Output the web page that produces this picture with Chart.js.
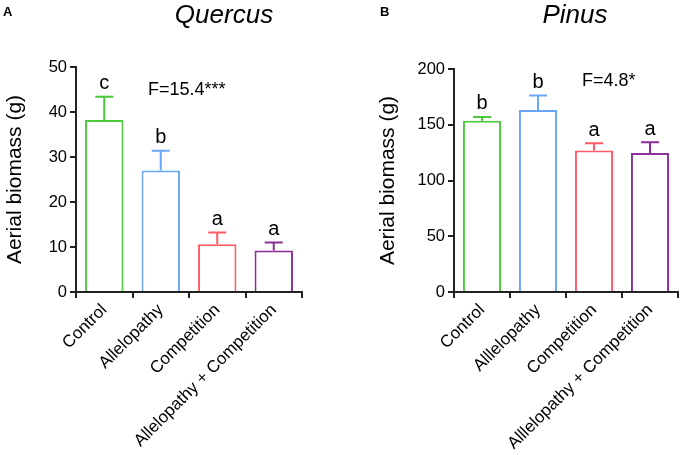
<!DOCTYPE html>
<html>
<head>
<meta charset="utf-8">
<script src="https://cdn.jsdelivr.net/npm/chart.js@4.4.1/dist/chart.umd.min.js"></script>
<style>
  html, body { margin: 0; padding: 0; background: #fff; }
  #wrap { position: relative; width: 680px; height: 455px; }
  .panel { position: absolute; top: 0; width: 340px; height: 455px; }
</style>
</head>
<body>
<div id="wrap">
  <div class="panel" style="left:0"><canvas id="graficoQuercus"></canvas></div>
  <div class="panel" style="left:340px"><canvas id="graficoPinus"></canvas></div>
</div>
<script>
// data
const categoriasQuercus = ["Control", "Allelopathy", "Competition", "Allelopathy + Competition"];
const categoriasPinus = ["Control", "Alllelopathy", "Competition", "Alllelopathy + Competition"];

const mediaQuercus = [38.2, 27.0, 10.6, 9.2];
const erroQuercus = [5.2, 4.4, 2.6, 1.8];
const letrasQuercus = ["c", "b", "a", "a"];

const mediaPinus = [153.6, 163.2, 127.0, 124.7];
const erroPinus = [3.4, 13.1, 6.3, 9.5];
const letrasPinus = ["b", "b", "a", "a"];

const ticksQuercus = [0, 10, 20, 30, 40, 50];
const ticksPinus = [0, 50, 100, 150, 200];

const cores = ["#4cc93c", "#6aa6f6", "#ff5a66", "#8c2d99"];
const FONTE = "'Liberation Sans', Arial, sans-serif";

// error bars + letters + titles
const extrasPlugin = {
    id: "extras",
    afterDatasetsDraw(chart, args, opts) {
        const ctx = chart.ctx;
        const meta = chart.getDatasetMeta(0);
        const y = chart.scales.y;
        ctx.save();
        meta.data.forEach((bar, i) => {
            const topo = opts.media[i] + opts.erro[i];
            const yTopo = y.getPixelForValue(topo);
            const yBar = y.getPixelForValue(opts.media[i]);
            ctx.strokeStyle = cores[i];
            ctx.lineWidth = 2;
            ctx.beginPath();
            ctx.moveTo(bar.x, yBar);
            ctx.lineTo(bar.x, yTopo);
            ctx.moveTo(bar.x - 9, yTopo);
            ctx.lineTo(bar.x + 9, yTopo);
            ctx.stroke();

            ctx.fillStyle = "#000";
            ctx.font = "20px " + FONTE;
            ctx.textAlign = "center";
            ctx.textBaseline = "bottom";
            ctx.fillText(opts.letras[i], bar.x, yTopo - 3);
        });

        ctx.fillStyle = "#000";
        ctx.textBaseline = "middle";
        ctx.font = "bold 13px " + FONTE;
        ctx.textAlign = "left";
        ctx.fillText(opts.painel, opts.painelX, 12);

        ctx.font = "italic 26px " + FONTE;
        ctx.textAlign = "center";
        ctx.fillText(opts.titulo, opts.tituloX, 16);

        ctx.font = "18px " + FONTE;
        ctx.textAlign = "left";
        ctx.fillText(opts.estat, opts.estatX, opts.estatY);
        ctx.restore();
    }
};

function criarGrafico(id, categorias, media, erro, letras, ticks, max, extras, topo) {
    const ctx = document.getElementById(id);
    return new Chart(ctx, {
        type: "bar",
        data: {
            labels: categorias,
            datasets: [{
                data: media,
                backgroundColor: "#ffffff",
                borderColor: cores,
                borderWidth: 2,
                borderSkipped: "bottom",
                categoryPercentage: 1,
                barPercentage: 0.68
            }]
        },
        options: {
            responsive: false,
            animation: false,
            layout: { padding: { left: extras.esquerda, right: 340 - extras.direita, top: topo, bottom: 0 } },
            plugins: {
                legend: { display: false },
                tooltip: { enabled: false },
                extras: Object.assign({ media: media, erro: erro, letras: letras }, extras)
            },
            scales: {
                x: {
                    grid: { drawOnChartArea: false, color: "#222", lineWidth: 2, tickLength: 6, offset: true },
                    border: { color: "#222", width: 2 },
                    ticks: {
                        color: "#000",
                        font: { size: 17, family: FONTE },
                        minRotation: 45,
                        maxRotation: 45,
                        padding: 2
                    },
                    afterFit(scale) { scale.height = 455 - 292; }
                },
                y: {
                    min: 0,
                    max: max,
                    afterBuildTicks(scale) { scale.ticks = ticks.map(v => ({ value: v })); },
                    grid: { drawOnChartArea: false, color: "#222", lineWidth: 2, tickLength: 6 },
                    border: { color: "#222", width: 2 },
                    ticks: {
                        color: "#000",
                        font: { size: 16.5, family: FONTE },
                        padding: 3
                    },
                    title: {
                        display: true,
                        text: "Aerial biomass (g)",
                        color: "#000",
                        font: { size: 21, family: FONTE },
                        padding: { top: 3, bottom: 0 }
                    },
                    afterFit(scale) { scale.width = extras.eixoX; }
                }
            }
        },
        plugins: [extrasPlugin]
    });
}

function ajustar(id) {
    const c = document.getElementById(id);
    c.width = 340; c.height = 455;
    c.style.width = "340px"; c.style.height = "455px";
}
ajustar("graficoQuercus");
ajustar("graficoPinus");

criarGrafico("graficoQuercus", categoriasQuercus, mediaQuercus, erroQuercus, letrasQuercus, ticksQuercus, 50,
    { painel: "A", painelX: 3, titulo: "Quercus", tituloX: 224, estat: "F=15.4***", estatX: 148, estatY: 90, esquerda: 0, eixoX: 76, direita: 302 }, 67);

criarGrafico("graficoPinus", categoriasPinus, mediaPinus, erroPinus, letrasPinus, ticksPinus, 200,
    { painel: "B", painelX: 40, titulo: "Pinus", tituloX: 235, estat: "F=4.8*", estatX: 242, estatY: 81, esquerda: 33, eixoX: 81, direita: 338 }, 69);
</script>
</body>
</html>
